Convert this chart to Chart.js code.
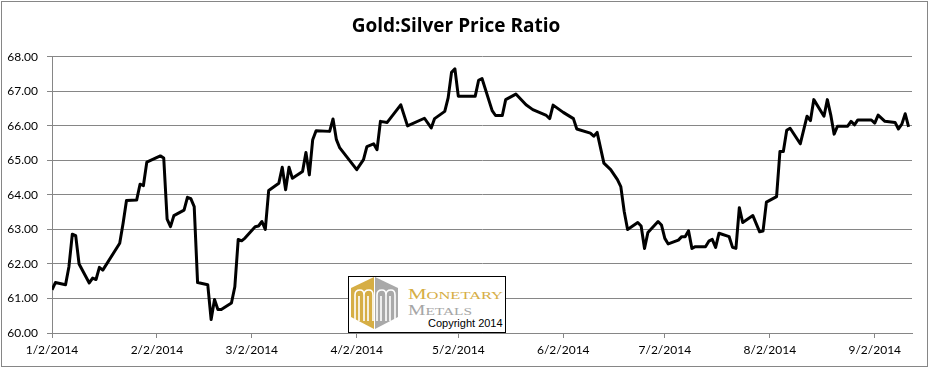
<!DOCTYPE html>
<html>
<head>
    <meta charset="UTF-8">
    <title>Gold:Silver Price Ratio</title>
    <script src="https://cdn.jsdelivr.net/npm/chart.js@4.4.1/dist/chart.umd.min.js"></script>
    <style>
        body { margin: 0; background: #fff; }
        #wrap { position: relative; width: 929px; height: 368px; }
        #logo { position: absolute; left: 348px; top: 276px; }
    </style>
</head>
<body>
<div id="wrap">
    <canvas id="ratio-chart" width="929" height="368"></canvas>
    <svg id="logo" width="159" height="57" viewBox="0 0 159 57">
        <rect x="0.5" y="0.5" width="157" height="56" fill="#fff" stroke="#000" stroke-width="1"/>
        <!-- hexagon mark, gold half and grey half -->
        <polygon points="26,1 3,12 3,41 26,53" fill="#D6AE45"/>
        <polygon points="27,1 50,12 50,41 27,53" fill="#A9A9A9"/>
        <path d="M7,45 V19 Q7,14 12,14 Q16,14 16,19 V45 M16,19 Q16,14 21,14 Q25,14 25,19 V45 M11,45 V20 M20,45 V20"
              fill="none" stroke="#fff" stroke-width="1.6"/>
        <path d="M29,45 V19 Q29,14 34,14 Q38,14 38,19 V45 M38,19 Q38,14 43,14 Q47,14 47,19 V45 M33,45 V20 M42,45 V20"
              fill="none" stroke="#fff" stroke-width="1.6"/>
        <text x="60" y="23" fill="#D6AE45" font-family="Liberation Serif, serif" textLength="95" lengthAdjust="spacingAndGlyphs"><tspan font-size="14">M</tspan><tspan font-size="11">ONETARY</tspan></text>
        <text x="60" y="39" fill="#A6A6A6" font-family="Liberation Serif, serif" textLength="64" lengthAdjust="spacingAndGlyphs"><tspan font-size="14">M</tspan><tspan font-size="11">ETALS</tspan></text>
        <text x="80" y="51" fill="#000" font-family="Liberation Sans, Arial, sans-serif" font-size="11">Copyright 2014</text>
    </svg>
</div>

<script>
    // days counted from 1/2/2014
    var days = [0, 1, 4, 5, 6, 7, 8, 11, 12, 13, 14, 15, 20, 21, 22, 25, 26, 27, 28,
        32, 33, 34, 35, 36, 39, 40, 41, 42, 43, 46, 47, 48, 49, 50, 53, 54, 55, 56, 57,
        60, 61, 62, 63, 64, 67, 68, 69, 70, 71, 74, 75, 76, 77, 78, 82, 83, 84, 85,
        90, 92, 93, 95, 96, 97, 99, 103, 105, 110, 112, 113, 116, 117, 118, 119, 120,
        125, 126, 127, 130, 131, 133, 134, 137, 140, 142, 146, 147, 148, 151, 154, 155,
        159, 160, 161, 163, 165, 167, 168, 169, 170, 173, 174, 175, 176, 179, 180, 181,
        182, 185, 186, 187, 188, 189, 190, 193, 194, 195, 196, 197, 200, 201, 202, 203,
        204, 207, 209, 210, 211, 214, 215, 216, 217, 218, 221, 223, 224, 225, 228, 229,
        230, 231, 232, 235, 236, 237, 238, 242, 243, 244, 246, 249, 250, 251, 252, 253];

    var ratio = [61.25, 61.46, 61.40, 61.92, 62.86, 62.82, 62.00, 61.45, 61.59, 61.55, 61.90, 61.82, 62.60, 63.18, 63.84, 63.85, 64.31, 64.27, 64.95,
        65.13, 65.07, 63.30, 63.08, 63.40, 63.56, 63.93, 63.89, 63.66, 61.46, 61.40, 60.39, 60.97, 60.68, 60.68, 60.87, 61.34, 62.71, 62.67, 62.75,
        63.08, 63.10, 63.23, 63.00, 64.13, 64.34, 64.80, 64.15, 64.80, 64.48, 64.68, 65.23, 64.58, 65.60, 65.86, 65.84, 66.20, 65.60, 65.36,
        64.73, 65.02, 65.40, 65.48, 65.31, 66.13, 66.10, 66.61, 66.00, 66.22, 65.94, 66.21, 66.42, 66.81, 67.55, 67.65, 66.86,
        66.86, 67.32, 67.37, 66.44, 66.30, 66.30, 66.76, 66.92, 66.61, 66.47, 66.30, 66.21, 66.60, 66.39, 66.21, 65.91,
        65.79, 65.70, 65.81, 64.92, 64.73, 64.44, 64.24, 63.52, 63.00, 63.20, 63.10, 62.45, 62.91, 63.23, 63.13, 62.74,
        62.58, 62.69, 62.79, 62.79, 62.96, 62.45, 62.50, 62.50, 62.66, 62.71, 62.48, 62.89, 62.79, 62.48, 62.45, 63.63,
        63.20, 63.40, 62.93, 62.95, 63.79, 63.95, 65.26, 65.26, 65.87, 65.93, 65.48, 66.28, 66.15, 66.76, 66.28, 66.76,
        66.32, 65.76, 65.99, 65.99, 66.13, 66.03, 66.17, 66.17, 66.08, 66.31, 66.13, 66.10, 65.91, 66.05, 66.35, 65.97];

    var tickDays = [0, 31, 59, 90, 120, 151, 181, 212, 243];
    var tickLabels = ['1/2/2014', '2/2/2014', '3/2/2014', '4/2/2014', '5/2/2014',
        '6/2/2014', '7/2/2014', '8/2/2014', '9/2/2014'];

    var points = [];
    for (var i = 0; i < days.length; i++) {
        points.push({ x: days[i], y: ratio[i] });
    }

    var frame = {
        id: 'frame',
        beforeDraw: function (chart) {
            var c = chart.ctx;
            c.save();
            c.fillStyle = '#fff';
            c.fillRect(0, 0, chart.width, chart.height);
            c.strokeStyle = '#868686';
            c.lineWidth = 1;
            c.strokeRect(1.5, 1.5, 926, 365);
            c.restore();
        }
    };

    var gridGrey = '#868686';

    var chart = new Chart(document.getElementById('ratio-chart'), {
        type: 'line',
        data: {
            datasets: [{
                data: points,
                borderColor: '#000',
                borderWidth: 3,
                borderJoinStyle: 'round',
                pointRadius: 0,
                tension: 0,
                fill: false
            }]
        },
        options: {
            responsive: false,
            animation: false,
            layout: { padding: { left: 0, right: 17, top: 0, bottom: 0 } },
            plugins: {
                legend: { display: false },
                tooltip: { enabled: false },
                title: {
                    display: true,
                    text: 'Gold:Silver Price Ratio',
                    color: '#000',
                    font: { family: 'Open Sans', size: 19, weight: 'bold' },
                    padding: { top: 15, bottom: 19 }
                }
            },
            scales: {
                x: {
                    type: 'linear',
                    min: 0,
                    max: 254,
                    afterBuildTicks: function (scale) {
                        scale.ticks = tickDays.map(function (d) { return { value: d }; });
                    },
                    afterFit: function (scale) { scale.height = 35; },
                    grid: { drawOnChartArea: false, drawTicks: true, tickLength: 5, color: gridGrey },
                    border: { display: true, color: gridGrey },
                    ticks: {
                        autoSkip: false,
                        maxRotation: 0,
                        padding: 5,
                        color: '#000',
                        font: { family: 'Lato', size: 12 },
                        callback: function (v) {
                            var k = tickDays.indexOf(v);
                            return k >= 0 ? tickLabels[k] : '';
                        }
                    }
                },
                y: {
                    min: 60,
                    max: 68,
                    afterFit: function (scale) { scale.width = 52; },
                    grid: { color: gridGrey, drawTicks: true, tickLength: 5 },
                    border: { display: true, color: gridGrey },
                    ticks: {
                        stepSize: 1,
                        padding: 9,
                        color: '#000',
                        font: { family: 'Lato', size: 12 },
                        callback: function (v) { return v.toFixed(2); }
                    }
                }
            }
        },
        plugins: [frame]
    });
</script>
</body>
</html>
